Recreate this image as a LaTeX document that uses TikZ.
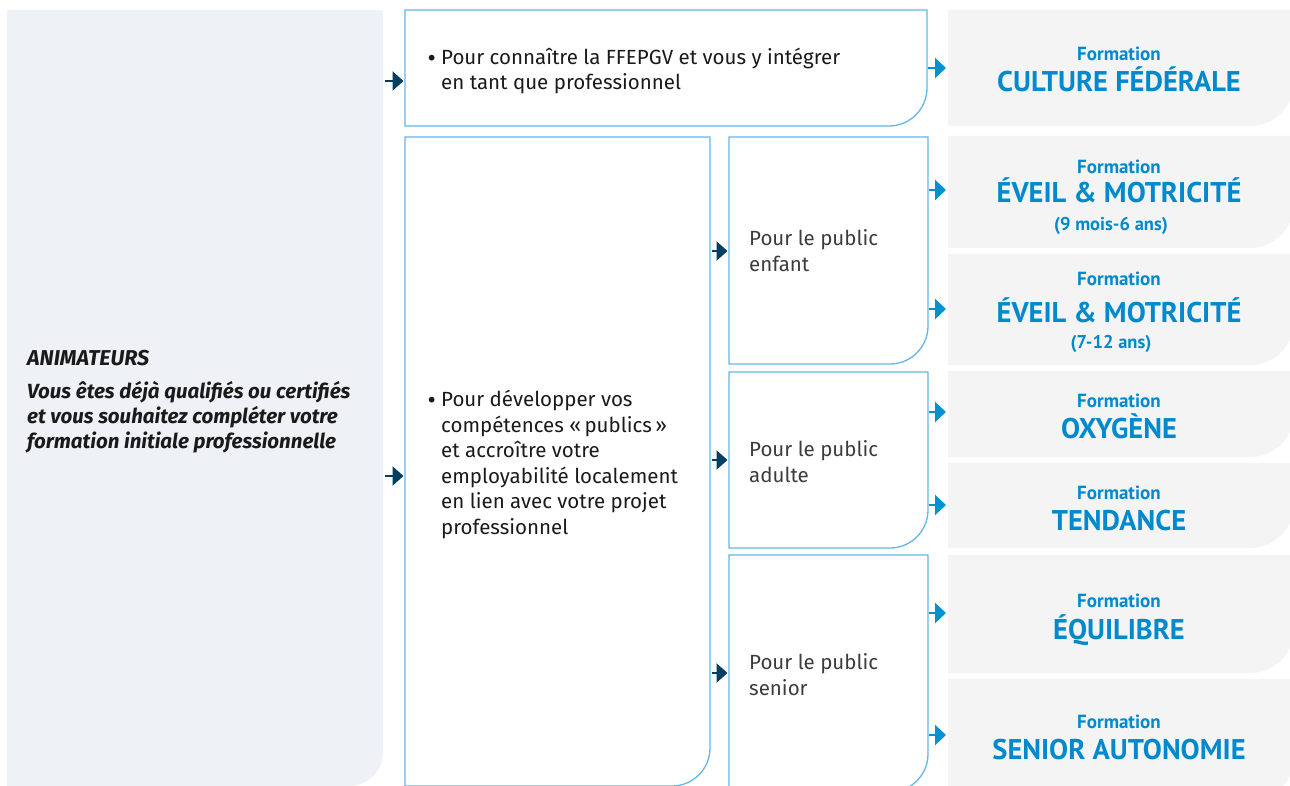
\documentclass[tikz,border=0pt]{standalone}
\usepackage{fontspec}
\setmainfont{Fira Sans}
\newfontfamily\titlefont{PT Sans}
\usetikzlibrary{arrows.meta}
\definecolor{leftfill}{RGB}{238,241,246}
\definecolor{grayfill}{RGB}{244,244,244}
\definecolor{boxline}{RGB}{100,182,228}
\definecolor{navy}{RGB}{5,62,96}
\definecolor{arrowblue}{RGB}{0,145,208}
\definecolor{titleblue}{RGB}{0,137,204}
\definecolor{bodytext}{RGB}{26,26,26}
\definecolor{publictext}{RGB}{60,60,60}
\newcommand\brpath[3]{\path[#1] (#2.north west) -- (#2.north east) -- ([yshift=#3]#2.south east) .. controls ([yshift=0.448*#3]#2.south east) and ([xshift=-0.448*#3]#2.south east) .. ([xshift=-#3]#2.south east) -- (#2.south west) -- cycle;}
\newcommand\bul{\makebox[14pt][l]{\titlefont\textbullet}}
\begin{document}
\begin{tikzpicture}[x=1pt,y=-1pt,
  area/.style={inner sep=0pt, outer sep=0pt, anchor=north west},
  whitebox/.style={draw=boxline, line width=1.3pt, fill=white},
  graybox/.style={fill=grayfill},
  leftbox/.style={fill=leftfill},
  navyarr/.style={draw=navy, line width=2.2pt, -{Triangle[length=11pt,width=19pt]}, shorten <=2pt, shorten >=1.5pt},
  bluearr/.style={draw=arrowblue, line width=2.2pt, -{Triangle[length=11pt,width=20pt]}, shorten <=1pt, shorten >=2pt},
  fmt/.style={anchor=base, inner sep=0pt, text=titleblue, font=\titlefont\bfseries\fontsize{19}{22}\selectfont},
  ttl/.style={anchor=base, inner sep=0pt, text=titleblue, font=\titlefont\bfseries\fontsize{28.5}{30}\selectfont},
  sub/.style={anchor=base, inner sep=0pt, text=titleblue, font=\titlefont\bfseries\fontsize{18.5}{20}\selectfont},
  body/.style={anchor=base west, inner sep=0pt, align=left, text=bodytext, font=\fontsize{20.5}{25.5}\selectfont},
  pub/.style={anchor=base west, inner sep=0pt, align=left, text=publictext, font=\fontsize{20.5}{26}\selectfont},
  lefttxt/.style={anchor=base west, inner sep=0pt, align=left, text=bodytext, font=\bfseries\itshape\fontsize{20.5}{25}\selectfont}
]
\useasboundingbox (0,0) rectangle (1290,786);
\clip (0,0) rectangle (1290,786);
\fill[white] (0,0) rectangle (1290,786);

% area nodes
\node[area, minimum width=376pt, minimum height=776pt] (L) at (7,10) {};
\node[area, minimum width=522pt, minimum height=116pt] (T) at (405,10) {};
\node[area, minimum width=305pt, minimum height=649pt] (B) at (405,137) {};
\node[area, minimum width=199pt, minimum height=227pt] (PE) at (729,137) {};
\node[area, minimum width=199pt, minimum height=176pt] (PA) at (729,372) {};
\node[area, minimum width=199pt, minimum height=237pt] (PS) at (729,555) {};
\node[area, minimum width=346pt, minimum height=116pt] (G1) at (948,10) {};
\node[area, minimum width=346pt, minimum height=112pt] (G2) at (948,136) {};
\node[area, minimum width=346pt, minimum height=111pt] (G3) at (948,254) {};
\node[area, minimum width=346pt, minimum height=86pt] (G4) at (948,371) {};
\node[area, minimum width=346pt, minimum height=85pt] (G5) at (948,463) {};
\node[area, minimum width=346pt, minimum height=118pt] (G6) at (948,555) {};
\node[area, minimum width=346pt, minimum height=122pt] (G7) at (948,679) {};

% shapes
\brpath{leftbox}{L}{34pt}
\brpath{whitebox}{T}{38pt}
\brpath{whitebox}{B}{38pt}
\brpath{whitebox}{PE}{38pt}
\brpath{whitebox}{PA}{38pt}
\brpath{whitebox}{PS}{38pt}
\brpath{graybox}{G1}{44pt}
\brpath{graybox}{G2}{44pt}
\brpath{graybox}{G3}{44pt}
\brpath{graybox}{G4}{44pt}
\brpath{graybox}{G5}{44pt}
\brpath{graybox}{G6}{44pt}
\brpath{graybox}{G7}{44pt}

% left texts (base anchor = last line)
\node[lefttxt, font=\bfseries\itshape\fontsize{21.5}{25}\selectfont] (anim) at (27,365) {ANIMATEURS};
\node[lefttxt] (animtxt) at (27,448) {Vous êtes déjà qualifiés ou certifiés\\et vous souhaitez compléter votre\\formation initiale professionnelle};

% middle texts
\node[body] (ttxt) at (427,90) {\bul Pour connaître la FFEPGV et vous y intégrer\\\hspace*{14pt}en tant que professionnel};
\node[body] (btxt) at (427,534) {\bul Pour développer vos\\\hspace*{14pt}compétences «\,publics\,»\\\hspace*{14pt}et accroître votre\\\hspace*{14pt}employabilité localement\\\hspace*{14pt}en lien avec votre projet\\\hspace*{14pt}professionnel};

\node[pub] (petxt) at (749,272) {Pour le public\\enfant};
\node[pub] (patxt) at (749,482) {Pour le public\\adulte};
\node[pub] (pstxt) at (749,695) {Pour le public\\senior};

% formation texts
\node[fmt] (f1) at (1119,61) {Formation};
\node[ttl] (t1) at (1119,92) {CULTURE FÉDÉRALE};
\node[fmt] (f2) at (1119,174) {Formation};
\node[ttl] (t2) at (1119,203) {ÉVEIL \& MOTRICITÉ};
\node[sub] (s2) at (1111,231) {(9 mois-6 ans)};
\node[fmt] (f3) at (1119,286) {Formation};
\node[ttl] (t3) at (1119,322) {ÉVEIL \& MOTRICITÉ};
\node[sub] (s3) at (1111,348) {(7-12 ans)};
\node[fmt] (f4) at (1119,407) {Formation};
\node[ttl] (t4) at (1119,438) {OXYGÈNE};
\node[fmt] (f5) at (1119,499) {Formation};
\node[ttl] (t5) at (1119,530) {TENDANCE};
\node[fmt] (f6) at (1119,607) {Formation};
\node[ttl] (t6) at (1119,639) {ÉQUILIBRE};
\node[fmt] (f7) at (1119,728) {Formation};
\node[ttl] (t7) at (1119,759) {SENIOR AUTONOMIE};

% connectors
\draw[navyarr] (L.east |- 0,81) -- (T.west |- 0,81);
\draw[navyarr] (L.east |- 0,476) -- (B.west |- 0,476);
\draw[navyarr] (B.east |- 0,251) -- (PE.west |- 0,251);
\draw[navyarr] (B.east |- 0,460) -- (PA.west |- 0,460);
\draw[navyarr] (B.east |- 0,673) -- (PS.west |- 0,673);

\draw[bluearr] (T.east |- 0,68) -- (G1.west |- 0,68);
\draw[bluearr] (PE.east |- 0,190) -- (G2.west |- 0,190);
\draw[bluearr] (PE.east |- 0,309) -- (G3.west |- 0,309);
\draw[bluearr] (PA.east |- 0,412) -- (G4.west |- 0,412);
\draw[bluearr] (PA.east |- 0,505) -- (G5.west |- 0,505);
\draw[bluearr] (PS.east |- 0,613) -- (G6.west |- 0,613);
\draw[bluearr] (PS.east |- 0,735) -- (G7.west |- 0,735);
\end{tikzpicture}
\end{document}
